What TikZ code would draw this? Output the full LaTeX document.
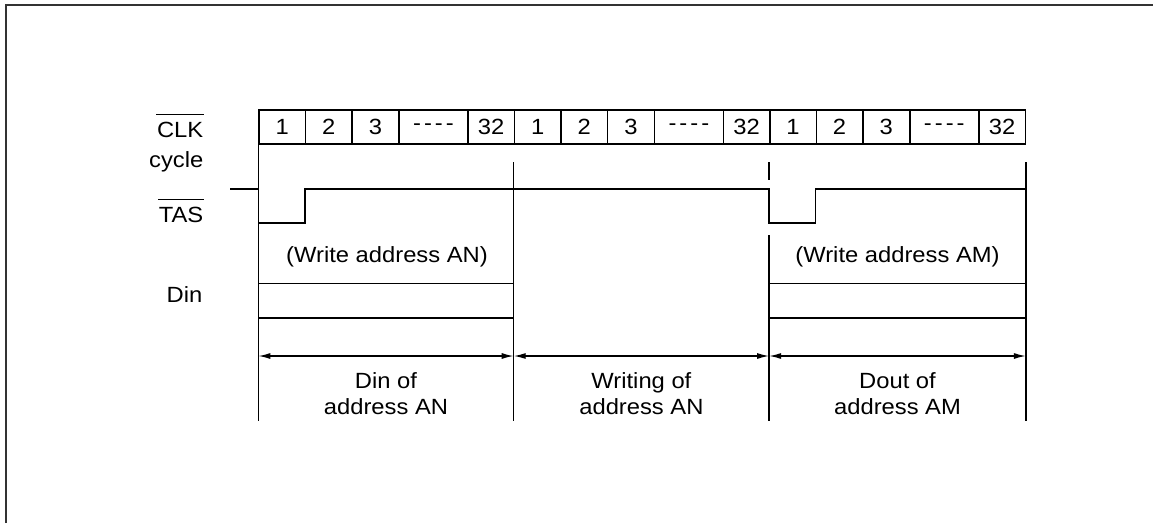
\documentclass[tikz,border=0pt]{standalone}
\usepackage{fontspec}
\setmainfont{Liberation Sans}[FakeStretch=1.08]
\usetikzlibrary{arrows.meta,calc}

\begin{document}
\begin{tikzpicture}[x=1pt,y=-1pt,line width=1.4pt,
  lbl/.style={font=\fontsize{22}{26}\selectfont,inner sep=0pt},
  cell/.style={draw,lbl,minimum height=34pt},
  sig/.style={lbl,anchor=base east},
  span/.style={{Latex[length=12pt,width=6pt]}-{Latex[length=12pt,width=6pt]}},
  frame/.style={line width=2pt,black!80}]
\useasboundingbox (0,0) rectangle (1153,523);

% outer frame (top and left edges)
\draw[frame] (6,523) -- (6,5) -- (1153,5);

% clock cycle boxes: three groups of 1, 2, 3, ----, 32
\foreach \s [count=\g] in {259,514.4,769.8} {
  \foreach \a/\b/\t [count=\i] in {0/46.5/1,46.5/93/2,93/140/3,140/209/{-\kern3pt-\kern3pt-\kern3pt-},209/255.4/32} {
    \node[cell,minimum width={(\b-\a)*1pt}] (c\g-\i) at ({\s+(\a+\b)/2},127) {\t};
  }
}

% reference levels
\coordinate (top) at (0,162);
\coordinate (bot) at (0,421);
\coordinate (hi) at (0,189);
\coordinate (lo) at (0,223);
\coordinate (gapA) at (0,180);
\coordinate (gapB) at (0,235);
\coordinate (dinA) at (0,283.5);
\coordinate (dinB) at (0,318);
\coordinate (arr) at (0,356);
\coordinate (stub) at (230,189);

% signal labels
\node[sig] (clk) at (204,137.7) {CLK};
\draw ([yshift=7pt]clk.north west) -- ([yshift=7pt]clk.north east);
\node[sig] (cyc) at (204,167) {cycle};
\node[sig] (tas) at (204,222.7) {TAS};
\draw ([yshift=7pt]tas.north west) -- ([yshift=7pt]tas.north east);
\node[sig] (din) at (203,302.7) {Din};

% TAS waveform
\draw (stub) -- (c1-1.south west |- hi) -- (c1-1.south west |- lo)
  -- (c1-2.south west |- lo) -- (c1-2.south west |- hi)
  -- (c3-1.south west |- hi) -- (c3-1.south west |- lo)
  -- (c3-2.south west |- lo) -- (c3-2.south west |- hi)
  -- (c3-5.south east |- hi);
\draw[line width=1.9pt] (561.5,189) -- (604.5,189);

% phase boundaries
\draw (c1-1.south west) -- (c1-1.south west |- bot);
\draw (c2-1.south west |- top) -- (c2-1.south west |- bot);
\draw (c3-1.south west |- top) -- (c3-1.south west |- gapA);
\draw (c3-1.south west |- gapB) -- (c3-1.south west |- bot);
\draw (c3-5.south east |- top) -- (c3-5.south east |- bot);

% Din bus
\draw (c1-1.south west |- dinA) -- (c2-1.south west |- dinA);
\draw (c1-1.south west |- dinB) -- (c2-1.south west |- dinB);
\draw (c3-1.south west |- dinA) -- (c3-5.south east |- dinA);
\draw (c3-1.south west |- dinB) -- (c3-5.south east |- dinB);

\node[lbl,anchor=base] (wan) at (387,262) {(Write address AN)};
\node[lbl,anchor=base] (wam) at (897.5,262) {(Write address AM)};

% phase spans
\coordinate (p1) at (c1-1.south west |- arr);
\coordinate (p2) at (c2-1.south west |- arr);
\coordinate (p3) at (c3-1.south west |- arr);
\coordinate (p4) at (c3-5.south east |- arr);
\draw[span] (p1) -- (p2);
\draw[span] (p2) -- (p3);
\draw[span] (p3) -- (p4);

\node[lbl,anchor=north,align=center] (t1) at ($(p1)!0.5!(p2)+(0,15.5)$) {Din of\\address AN};
\node[lbl,anchor=north,align=center] (t2) at ($(p2)!0.5!(p3)+(0,15.5)$) {Writing of\\address AN};
\node[lbl,anchor=north,align=center] (t3) at ($(p3)!0.5!(p4)+(0,15.5)$) {Dout of\\address AM};
\end{tikzpicture}
\end{document}
